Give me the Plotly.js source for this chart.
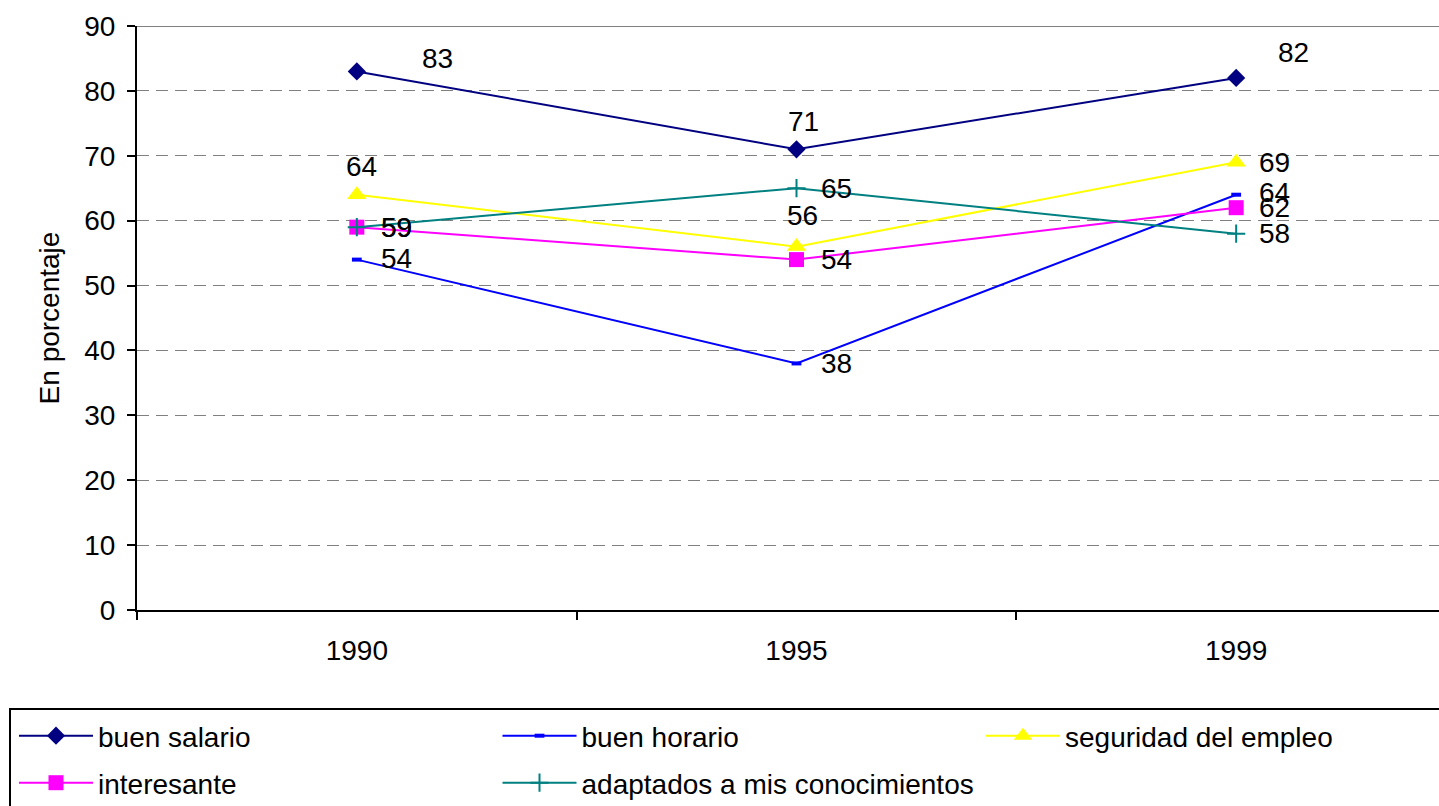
<!DOCTYPE html>
<html>
<head>
<meta charset="utf-8">
<script src="https://cdn.plot.ly/plotly-3.0.1.min.js"></script>
<style>
html, body { margin: 0; padding: 0; overflow: hidden; background: #fff; }
#chart { width: 1560px; height: 830px; }
</style>
</head>
<body>
<div id="chart"></div>
<script>
// ---- data ----
const years = ['1990', '1995', '1999'];
const seriesNames = ['buen salario', 'buen horario', 'seguridad del empleo', 'interesante', 'adaptados a mis conocimientos'];
const buenSalario = [83, 71, 82];
const buenHorario = [54, 38, 64];
const seguridadEmpleo = [64, 56, 69];
const interesante = [59, 54, 62];
const adaptados = [59, 65, 58];
const yTicks = [0, 10, 20, 30, 40, 50, 60, 70, 80, 90];

// ---- styles ----
const FONT = 'Liberation Sans, Arial, sans-serif';
const FS = 28;
const seriesValues = [buenSalario, buenHorario, seguridadEmpleo, interesante, adaptados];
const seriesStyle = [
  { color: '#000080', symbol: 'diamond', size: 14, legend: 'legend' },
  { color: '#0000FF', symbol: 'line-ew', size: 7, lw: 4, legend: 'legend' },
  { color: '#FFFF00', symbol: 'triangle-up', size: 17, legend: 'legend' },
  { color: '#FF00FF', symbol: 'square', size: 15, legend: 'legend2' },
  { color: '#008080', symbol: 'cross-thin', size: 13, lw: 2, legend: 'legend2' }
];
// label offsets in px (dx, dy up) relative to each point
const labelOffsets = [
  [[81, 13], [7, 28], [57, 25]],
  [[40, 1], [40, 0], [38, 2]],
  [[5, 28], [6, 31], [38, 0]],
  [[40, 0], [40, 0], [38, 0]],
  [[40, 0], [40, 0], [38, 0]]
];

const traces = seriesValues.map((vals, i) => {
  const s = seriesStyle[i];
  const marker = { symbol: s.symbol, size: s.size, color: s.color };
  if (s.lw) marker.line = { color: s.color, width: s.lw };
  return {
    type: 'scatter', mode: 'lines+markers',
    name: seriesNames[i], x: years, y: vals, legend: s.legend,
    line: { color: s.color, width: 2 },
    marker: marker, cliponaxis: false, hoverinfo: 'none'
  };
});

const annotations = [];
seriesValues.forEach((vals, i) => {
  vals.forEach((v, j) => {
    annotations.push({
      x: j, y: v, xref: 'x', yref: 'y', text: String(v), showarrow: false,
      xshift: labelOffsets[i][j][0], yshift: labelOffsets[i][j][1],
      xanchor: 'center', yanchor: 'middle',
      font: { family: FONT, size: FS, color: '#000' }
    });
  });
});

const W = 1560, H = 830;
const L = 137, R = 20, T = 26, B = H - 610;
const plotW = W - L - R, plotH = H - T - B;
const pitch = 1319 / 3;
const xMax = -0.5 + plotW / pitch;
const px2fx = p => (p - L) / plotW;
const py2fy = p => (610 - p) / plotH;

const legendCommon = {
  orientation: 'h', xanchor: 'left', yanchor: 'top',
  borderwidth: 0, bgcolor: 'rgba(0,0,0,0)',
  font: { family: FONT, size: FS, color: '#000' },
  itemwidth: 74, entrywidthmode: 'pixels', entrywidth: 394.5,
  traceorder: 'normal'
};

const layout = {
  width: W, height: H,
  margin: { l: L, r: R, t: T, b: B, pad: 0, autoexpand: false },
  paper_bgcolor: '#fff', plot_bgcolor: '#fff',
  font: { family: FONT, size: FS, color: '#000' },
  showlegend: true,
  xaxis: {
    type: 'category', range: [-0.5, xMax], fixedrange: true,
    showgrid: false, zeroline: false,
    showline: true, linecolor: '#000', linewidth: 2,
    ticks: 'outside', tickson: 'boundaries', ticklen: 8, tickwidth: 2, tickcolor: '#000',
    tickfont: { family: FONT, size: FS, color: '#000' },
    ticklabelstandoff: 14, automargin: false
  },
  yaxis: {
    range: [0, 90], tickvals: yTicks, ticktext: yTicks.map(String), fixedrange: true,
    showgrid: true, gridcolor: '#808080', gridwidth: 1, griddash: '12px,7px',
    zeroline: false, showline: true, linecolor: '#000', linewidth: 2,
    ticks: 'outside', ticklen: 8, tickwidth: 2, tickcolor: '#000',
    tickfont: { family: FONT, size: FS, color: '#000' },
    ticklabelstandoff: 6,
    title: { text: 'En porcentaje', font: { family: FONT, size: FS, color: '#000' }, standoff: 16 },
    automargin: false
  },
  shapes: [
    { type: 'line', xref: 'paper', yref: 'y', x0: 0, x1: 1, y0: 90, y1: 90,
      line: { color: '#808080', width: 2 } },
    { type: 'rect', xref: 'paper', yref: 'paper',
      x0: px2fx(10), x1: px2fx(1530), y0: py2fy(709), y1: py2fy(825),
      line: { color: '#000', width: 2 }, fillcolor: 'rgba(0,0,0,0)' }
  ],
  annotations: annotations,
  legend: Object.assign({}, legendCommon, { x: px2fx(14), y: py2fy(711) }),
  legend2: Object.assign({}, legendCommon, { x: px2fx(14), y: py2fy(758) })
};

Plotly.newPlot('chart', traces, layout, { staticPlot: true, displayModeBar: false });
</script>
</body>
</html>
